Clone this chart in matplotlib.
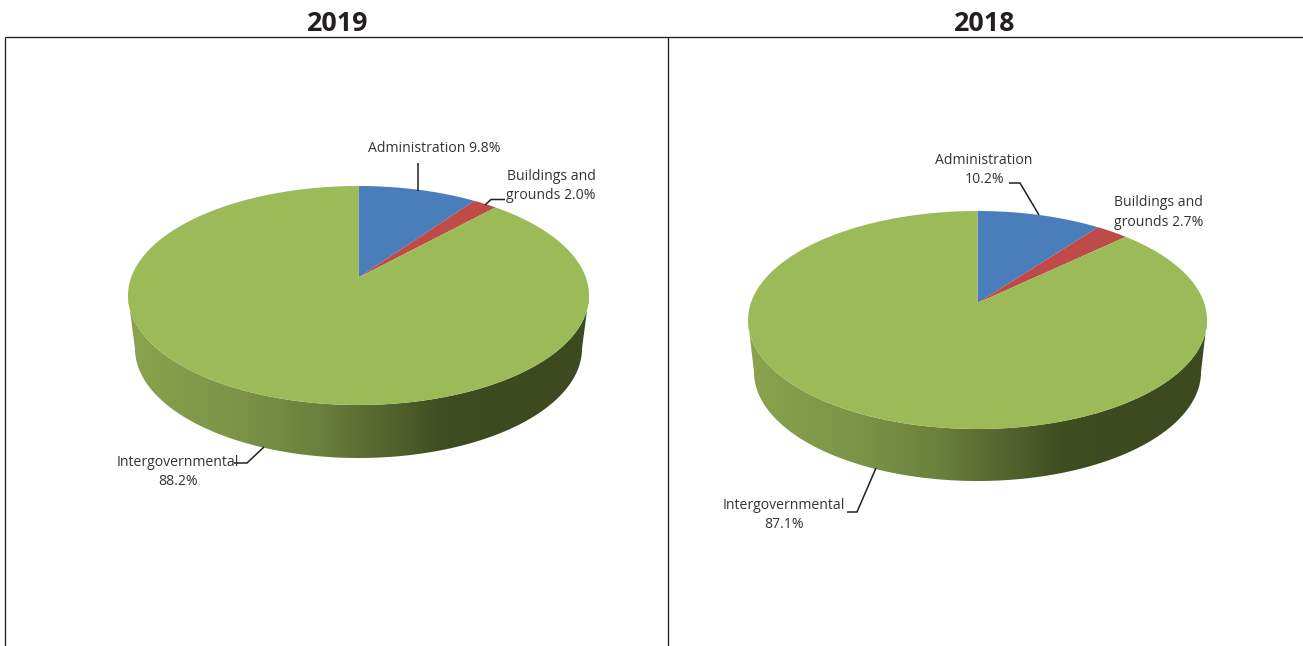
import numpy as np
import matplotlib
matplotlib.use("Agg")
import matplotlib.pyplot as plt
from matplotlib.colors import LinearSegmentedColormap
from matplotlib.patches import Polygon

plt.rcParams['font.family'] = ['Open Sans', 'DejaVu Sans']

years = ["2019", "2018"]
categories = ["Administration", "Buildings and grounds", "Intergovernmental"]
values_2019 = [9.8, 2.0, 88.2]
values_2018 = [10.2, 2.7, 87.1]
colors = ["#4a7ebb", "#be4b48", "#9bbb59"]

W, H = 1303, 646
fig = plt.figure(figsize=(W / 100, H / 100), dpi=100)
ax = fig.add_axes([0, 0, 1, 1])

# shading of the rim, left to right
rim_cmap = LinearSegmentedColormap.from_list("rim", [
    (0.0, "#89a34d"), (0.25, "#7a9347"), (0.42, "#6a803c"), (0.5, "#5f6e33"),
    (0.6, "#4f5d2b"), (0.68, "#404d20"), (0.8, "#3d4a1f"), (1.0, "#3d4a1f")])


def pie(values, cx, apex_y, top, bottom, rx, rim_rx, rim_bottom):
    # the top is a circle seen in perspective, so the centre sits above the middle of the ellipse
    far = apex_y - top
    near = bottom - apex_y
    k = (near - far) / (near + far)
    b = far * (1 + k)
    a = rx * np.sqrt(1 - k ** 2)
    mid_y = (top + bottom) / 2
    ry = (bottom - top) / 2

    # rim: lower half of both ellipses, gradient clipped to that shape
    t = np.linspace(0, np.pi, 200)
    rim_mid = rim_bottom - ry
    upper = np.column_stack([cx + rx * np.cos(t), mid_y + ry * np.sin(t)])
    lower = np.column_stack([cx + rim_rx * np.cos(t), rim_mid + ry * np.sin(t)])
    shape = Polygon(np.vstack([upper, lower[::-1]]), fc="none", ec="none", transform=ax.transData)
    ax.add_patch(shape)
    grad = np.linspace(0, 1, 512).reshape(1, -1)
    im = ax.imshow(grad, cmap=rim_cmap, aspect="auto", interpolation="bilinear",
                   extent=[cx - rx, cx + rx, rim_bottom, top])
    im.set_clip_path(shape)

    # top slices clockwise from twelve o'clock
    start = 0.0
    for v, c in zip(values, colors):
        th = np.radians(np.linspace(start, start + v * 3.6, 200))
        w = 1 + k * np.cos(th)
        xs = cx + a * np.sin(th) / w
        ys = apex_y - b * np.cos(th) / w
        ax.add_patch(Polygon(np.column_stack([np.r_[cx, xs], np.r_[apex_y, ys]]), fc=c, ec="none"))
        start += v * 3.6


pie(values_2019, 358.5, 277.5, 186, 405, 230.5, 223.5, 458)
pie(values_2018, 977.5, 303, 211, 429, 229.5, 223.5, 481)

# panel frame
frame = dict(color="#231f20", lw=0.95, solid_capstyle="butt")
ax.plot([5, 5], [646, 37], **frame)
ax.plot([5, 1303], [37, 37], **frame)
ax.plot([668, 668], [37, 646], **frame)

for x, year in zip([337.5, 985], years):
    ax.text(x, 24, year, fontsize=19.3, fontweight="bold", color="#231f20", ha="center", va="center")


def label(x, y, s):
    ax.text(x, y + 1.5, s, fontsize=10.1, color="#333333", ha="center", va="center")


label(434, 147, f"{categories[0]} {values_2019[0]}%")
label(551, 175, "Buildings and")
label(551, 194, f"grounds {values_2019[1]}%")
label(177.5, 461, categories[2])
label(178, 480, f"{values_2019[2]}%")

label(984, 159, categories[0])
label(984, 178, f"{values_2018[0]}%")
label(1158.5, 201, "Buildings and")
label(1158.5, 221, f"grounds {values_2018[1]}%")
label(784, 504, categories[2])
label(784, 523, f"{values_2018[2]}%")

# leader lines
lk = dict(color="#231f20", lw=1.1, solid_capstyle="butt", solid_joinstyle="miter")
ax.plot([418, 418], [163, 191], **lk)
ax.plot([485, 491, 505], [205, 199.5, 199.5], **lk)
ax.plot([234, 247, 264], [463, 463, 447], **lk)
ax.plot([1009, 1020, 1039], [183, 183, 215], **lk)
ax.plot([847, 857, 876], [512, 512, 468], **lk)

ax.set_xlim(0, W)
ax.set_ylim(H, 0)
ax.axis("off")

fig.savefig("out.png", dpi=100)
